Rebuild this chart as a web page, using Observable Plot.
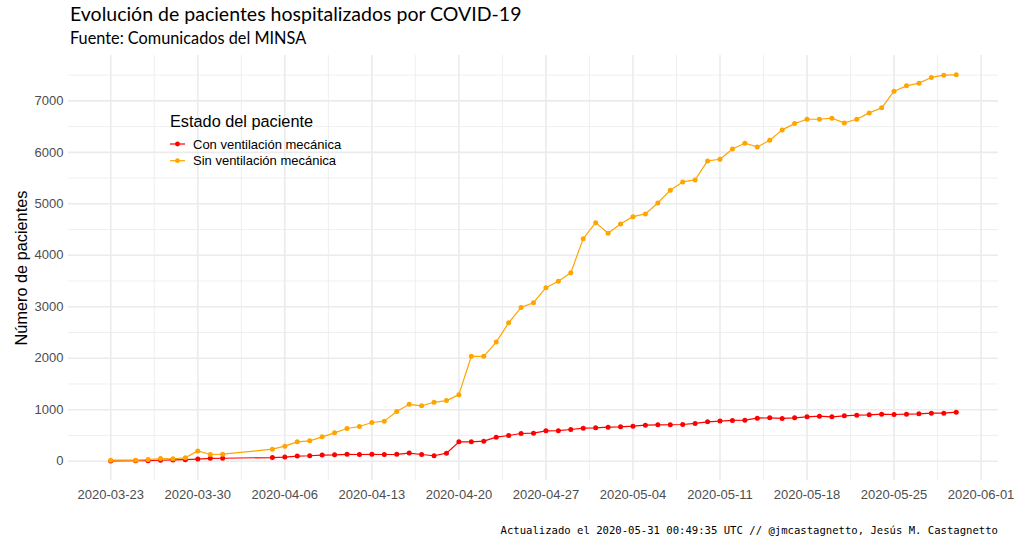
<!DOCTYPE html>
<html><head><meta charset="utf-8">
<script src="https://cdn.jsdelivr.net/npm/d3@7"></script>
<script src="https://cdn.jsdelivr.net/npm/@observablehq/plot@0.6"></script>
<style>
body{margin:0;background:#fff;}
#wrap{position:relative;width:1017px;height:538px;overflow:hidden;background:#fff;}
#chart{position:absolute;left:0;top:0;}
.t{position:absolute;white-space:nowrap;color:#000;}
#title{left:70px;top:4px;font-family:Lato,sans-serif;font-size:19.5px;line-height:20px;}
#subtitle{left:70px;top:29px;font-family:Lato,sans-serif;font-size:16.3px;line-height:18px;}
#ylab{left:21px;top:268px;font-family:"Liberation Sans",Arial,sans-serif;font-size:16.3px;transform:translate(-50%,-50%) rotate(-90deg);color:#000;}
#caption{right:19px;top:524px;font-family:"DejaVu Sans Mono",monospace;font-size:10.6px;line-height:13px;text-align:right;}
#legend{position:absolute;left:160px;top:105px;}
</style></head><body>
<div id="wrap">
  <div id="chart"></div>
  <div id="title" class="t">Evolución de pacientes hospitalizados por COVID-19</div>
  <div id="subtitle" class="t">Fuente: Comunicados del MINSA</div>
  <div id="ylab" class="t">Número de pacientes</div>
  <div id="caption" class="t">Actualizado el 2020-05-31 00:49:35 UTC // @jmcastagnetto, Jesús M. Castagnetto</div>
  <svg id="legend" width="220" height="70"></svg>
</div>
<script>
const dates = ["2020-03-23","2020-03-25","2020-03-26","2020-03-27","2020-03-28","2020-03-29","2020-03-30","2020-03-31","2020-04-01",
"2020-04-05","2020-04-06","2020-04-07","2020-04-08","2020-04-09","2020-04-10","2020-04-11","2020-04-12","2020-04-13","2020-04-14",
"2020-04-15","2020-04-16","2020-04-17","2020-04-18","2020-04-19","2020-04-20","2020-04-21","2020-04-22","2020-04-23","2020-04-24",
"2020-04-25","2020-04-26","2020-04-27","2020-04-28","2020-04-29","2020-04-30","2020-05-01","2020-05-02","2020-05-03","2020-05-04",
"2020-05-05","2020-05-06","2020-05-07","2020-05-08","2020-05-09","2020-05-10","2020-05-11","2020-05-12","2020-05-13","2020-05-14",
"2020-05-15","2020-05-16","2020-05-17","2020-05-18","2020-05-19","2020-05-20","2020-05-21","2020-05-22","2020-05-23","2020-05-24",
"2020-05-25","2020-05-26","2020-05-27","2020-05-28","2020-05-29","2020-05-30"];
const conVentilacion = [5,8,10,18,25,30,40,55,57,
71,80,100,106,118,123,134,130,134,130,
134,158,130,106,155,376,376,389,467,499,
538,544,590,592,616,642,648,661,668,681,
700,707,708,713,733,765,780,791,797,836,
843,830,843,862,875,862,881,894,901,914,
907,914,920,933,933,953];
const sinVentilacion = [20,20,33,50,47,65,200,130,136,
233,292,376,395,473,551,635,674,752,778,
965,1105,1076,1144,1177,1293,2038,2038,2314,2687,
2988,3079,3370,3494,3662,4323,4634,4427,4608,4751,
4803,5017,5264,5425,5464,5833,5866,6066,6177,6105,
6235,6436,6558,6643,6643,6663,6572,6643,6766,6864,
7188,7292,7344,7455,7500,7506];
const series = ["Con ventilación mecánica","Sin ventilación mecánica"];
const colors = ["#FF0000","#FFA500"];
const legendTitle = "Estado del paciente";
const yTicks = [0,1000,2000,3000,4000,5000,6000,7000];
const xTickLabels = ["2020-03-23","2020-03-30","2020-04-06","2020-04-13","2020-04-20","2020-04-27","2020-05-04","2020-05-11","2020-05-18","2020-05-25","2020-06-01"];

const parse = d3.utcParse("%Y-%m-%d");
const data = [];
dates.forEach((d,i)=>{
  data.push({date:parse(d), value:conVentilacion[i], serie:series[0]});
  data.push({date:parse(d), value:sinVentilacion[i], serie:series[1]});
});
const allDates = dates.map(parse);
const xMin = d3.min(allDates), xMax = d3.max(allDates);
const xr = (xMax - xMin) * 0.05;
const xDomain = [new Date(+xMin - xr), new Date(+xMax + xr)];
const yMax = d3.max(data, d=>d.value), yMin = 0;
const yr = (yMax - yMin) * 0.05;
const yDomain = [yMin - yr, yMax + yr];

const xTicks = xTickLabels.map(parse);
const xMinor = xTicks.map(d=>new Date(+d - 3.5*864e5)).concat([new Date(+xTicks[xTicks.length-1] + 3.5*864e5)])
  .filter(d=>d>=xDomain[0] && d<=xDomain[1]);
const yMinor = yTicks.map(v=>v+500).concat([-500]).filter(v=>v>=yDomain[0] && v<=yDomain[1]);

const chart = Plot.plot({
  width:1017, height:538,
  marginLeft:68, marginRight:19, marginTop:55, marginBottom:58,
  style:{fontFamily:"'Liberation Sans', Arial, sans-serif", fontSize:"13px", color:"#4d4d4d", background:"transparent"},
  x:{type:"utc", domain:xDomain, ticks:xTicks, tickFormat:d3.utcFormat("%Y-%m-%d"), tickSize:0, tickPadding:9, label:null},
  y:{domain:yDomain, ticks:yTicks, tickFormat:d=>String(d), tickSize:0, tickPadding:5, label:null},
  color:{domain:series, range:colors},
  marks:[
    Plot.ruleX(xMinor, {stroke:"#ebebeb", strokeWidth:0.8}),
    Plot.ruleY(yMinor, {stroke:"#ebebeb", strokeWidth:0.8}),
    Plot.ruleX(xTicks, {stroke:"#ebebeb", strokeWidth:1.6}),
    Plot.ruleY(yTicks, {stroke:"#ebebeb", strokeWidth:1.6}),
    Plot.line(data, {x:"date", y:"value", z:"serie", stroke:"serie", strokeWidth:1.2}),
    Plot.dot(data, {x:"date", y:"value", fill:"serie", r:2.5, stroke:"none"})
  ]
});
document.getElementById("chart").appendChild(chart);

// legend
const lg = d3.select("#legend");
lg.append("text").attr("x",10).attr("y",22).text(legendTitle)
  .style("font-family","'Liberation Sans', Arial, sans-serif").style("font-size","16.3px").attr("fill","#000");
series.forEach((s,i)=>{
  const cy = 39 + i*16.7;
  lg.append("line").attr("x1",10).attr("x2",25).attr("y1",cy).attr("y2",cy).attr("stroke",colors[i]).attr("stroke-width",1.2);
  lg.append("circle").attr("cx",17.5).attr("cy",cy).attr("r",2.4).attr("fill",colors[i]);
  lg.append("text").attr("x",33).attr("y",cy+4.5).text(s)
    .style("font-family","'Liberation Sans', Arial, sans-serif").style("font-size","13px").attr("fill","#000");
});
</script>
</body></html>
